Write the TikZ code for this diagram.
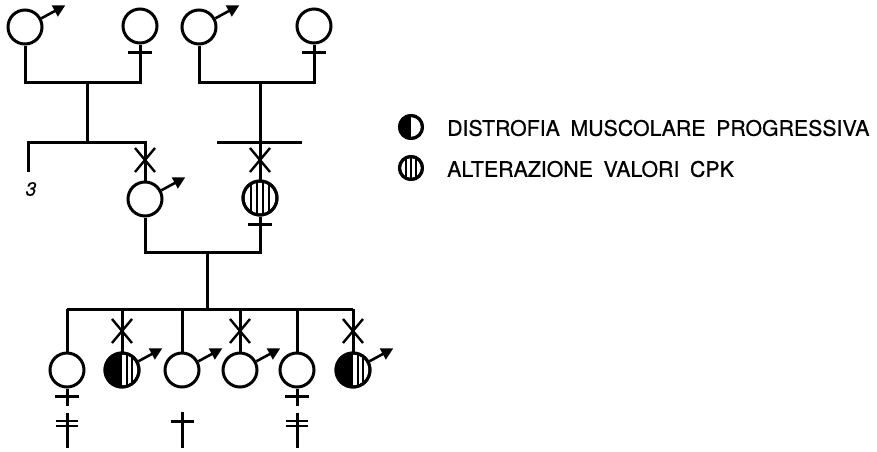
\documentclass[tikz,border=0pt]{standalone}
\usepackage{fontspec}
\setmainfont[FakeBold=0.6]{TeX Gyre Heros}
\usetikzlibrary{arrows.meta}

\tikzset{
  person/.style={circle,draw,line width=3pt,minimum size=34pt,inner sep=0pt},
  legsym/.style={circle,draw,line width=3pt,minimum size=23pt,inner sep=0pt},
  line/.style={line width=3pt},
  stripe/.style={line width=1.8pt},
  malearrow/.style={line width=2.6pt,-{Triangle[length=12pt,width=12pt]}},
  legtext/.style={anchor=west,inner sep=0pt,font=\fontsize{21.3}{23}\selectfont},
}

% symbols
\newcommand{\malesign}[1]{\draw[malearrow] (#1.28) -- ++(24,-13);}
\newcommand{\femsign}[1]{\draw[line] ([shift={(-12,8)}]#1.south) -- ++(24,0);}
\newcommand{\xmark}[1]{\draw[line,line width=2.4pt] (#1) ++(-10,-12) -- ++(20,24) (#1) ++(10,-12) -- ++(-20,24);}
\newcommand{\halfblack}[2]{\begin{scope}\clip (#1.center) circle (#2);
  \fill (#1.center) ++(-#2,-#2) rectangle ++(#2,2*#2);\end{scope}}
\newcommand{\stripes}[3]{\begin{scope}\clip (#1.center) circle (#2);
  \foreach \dx in {#3} {\draw[stripe] (#1.center) ++(\dx,-#2) -- ++(0,2*#2);}\end{scope}}

\begin{document}
\begin{tikzpicture}[x=1pt,y=-1pt]
  \useasboundingbox (0,0) rectangle (877,451);

  % grandparents
  \node[person] (gfa) at (25,27) {};
  \node[person] (gma) at (140,26) {};
  \node[person] (gfb) at (199,27) {};
  \node[person] (gmb) at (314,26) {};
  \malesign{gfa} \femsign{gma}
  \malesign{gfb} \femsign{gmb}

  \coordinate (mA) at (87,82);
  \coordinate (sA) at (87,142);
  \coordinate (mB) at (260,82);
  \coordinate (sBl) at (217,142);
  \coordinate (sBr) at (302,142);
  \coordinate (sib3) at (28,172);

  \draw[line] (gfa) |- (mA) -| (gma);
  \draw[line] (gfb) |- (mB) -| (gmb);
  \draw[line] (mA) -- (sA);
  \draw[line] (sBl) -- (sBr);

  % parents
  \node[person] (fa) at (145,199) {};
  \node[person] (mo) at (260,198) {};
  \stripes{mo}{18}{-9,-3,3,9}
  \node[person] (mo) at (260,198) {};
  \malesign{fa} \femsign{mo}
  \node[font=\itshape\fontsize{19}{19}\selectfont] (n3) at (31,189) {3};

  \draw[line] (sib3) |- (sA) -| (fa);
  \draw[line] (mB) -- (mo);
  \xmark{145,160} \xmark{260,160}

  \coordinate (mC) at (207,252);
  \coordinate (sC) at (207,309);
  \draw[line] (fa) |- (mC) -| (mo);
  \draw[line] (mC) -- (sC);

  % children
  \foreach \i/\x in {1/67,2/122,3/182,4/240,5/297,6/353}
    {\node[person] (c\i) at (\x,370) {};}
  \foreach \i in {2,6} {
    \halfblack{c\i}{18}
    \stripes{c\i}{18}{5,10}
    \node[person] at (c\i) {};
  }
  \foreach \i in {2,3,4,6} {\malesign{c\i}}
  \foreach \i in {1,5} {
    \draw[line] (c\i.south) -- ++(0,17);
    \femsign{c\i}
  }
  \draw[line] (c1 |- sC) -- (c6 |- sC);
  \foreach \i in {1,...,6} {\draw[line] (c\i |- sC) -- (c\i);}
  \foreach \x in {122,240,353} {\xmark{\x,331}}

  % deceased
  \foreach \x in {67,297} {
    \draw[line] (\x,413) -- (\x,448);
    \draw[line,line width=2.4pt] (\x-11,421) -- (\x+11,421) (\x-11,426) -- (\x+11,426);
  }
  \draw[line] (182,412) -- (182,448);
  \draw[line] (171,421) -- (194,421);

  % legend
  \node[legsym] (legA) at (411,127) {};
  \halfblack{legA}{12}
  \node[legsym] at (legA) {};
  \node[legsym] (legB) at (411,168) {};
  \stripes{legB}{12}{-5,0,5}
  \node[legsym] at (legB) {};
  \node[legtext] (txtA) at (447,128) {DISTROFIA\hspace{0.5em}MUSCOLARE\hspace{0.5em}PROGRESSIVA};
  \node[legtext] (txtB) at (447,169) {ALTERAZIONE\hspace{0.5em}VALORI\hspace{0.5em}CPK};
\end{tikzpicture}
\end{document}
